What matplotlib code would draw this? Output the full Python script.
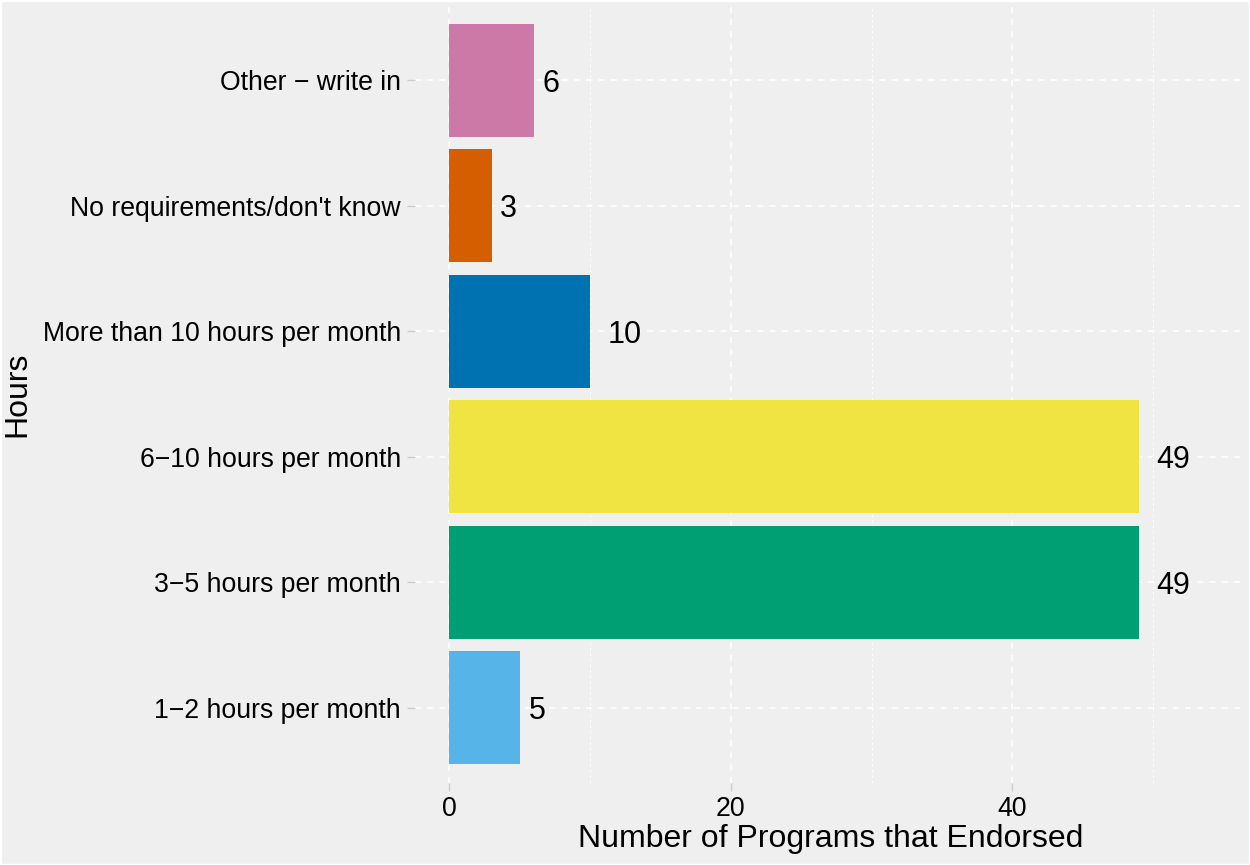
import matplotlib
matplotlib.use("Agg")
import matplotlib.pyplot as plt
from matplotlib.patches import Rectangle
from matplotlib.ticker import MultipleLocator

plt.rcParams['font.family'] = ['Liberation Sans', 'DejaVu Sans']

categories = ["1\u22122 hours per month", "3\u22125 hours per month", "6\u221210 hours per month",
              "More than 10 hours per month", "No requirements/don't know", "Other \u2212 write in"]
values = [5, 49, 49, 10, 3, 6]
colors = ["#56B4E9", "#009E73", "#F0E442", "#0072B2", "#D55E00", "#CC79A7"]
x_ticks = [0, 20, 40]
x_label = "Number of Programs that Endorsed"
y_label = "Hours"

bg = "#EFEFEF"
fig = plt.figure(figsize=(12.5, 8.65), dpi=100, facecolor=bg)
W, H = 1250, 865
left, right, top, bottom = 415, 1246, 5, 783
ax = fig.add_axes([left / W, 1 - bottom / H, (right - left) / W, (bottom - top) / H])
ax.set_facecolor(bg)

ypos = list(range(len(categories)))
ax.barh(ypos, values, height=0.9, color=colors, zorder=3)

ax.set_xlim(-2.45, 56.6)
ax.set_ylim(-0.6, len(categories) - 0.4)

ax.set_xticks(x_ticks)
ax.xaxis.set_minor_locator(MultipleLocator(10))
ax.set_yticks(ypos)
ax.set_yticklabels(categories)

ax.grid(True, which='major', axis='both', color='white', linestyle=(0, (4, 4)), linewidth=1.1, zorder=1)
ax.grid(True, which='minor', axis='x', color='white', linestyle=(0, (2, 3)), linewidth=0.8, zorder=1)
ax.tick_params(axis='x', which='minor', length=0)

for s in ax.spines.values():
    s.set_visible(False)

ax.tick_params(axis='both', which='major', length=6, width=1, color='#CCCCCC', labelsize=19.2, labelcolor='black')
ax.tick_params(axis='y', pad=4.0)
ax.tick_params(axis='x', pad=3)

fs_lab = 22
for y, v in zip(ypos, values):
    lab = str(v)
    off = 0.5 * len(lab) * 0.556 * fs_lab
    ax.annotate(lab, xy=(v, y), xytext=(off, -2.5), textcoords='offset points',
                ha='left', va='center', fontsize=fs_lab, color='black', zorder=4)

ax.set_xlabel(x_label, fontsize=23)
ax.xaxis.set_label_coords(0.5, -0.053)
ax.xaxis.label.set_va('top')
ax.set_ylabel(y_label, fontsize=23)
ax.yaxis.set_label_coords(-0.461, 0.5)

fig.patches.append(Rectangle((0, 0), 1, 1, transform=fig.transFigure, fill=False,
                             edgecolor='white', linewidth=2.5, zorder=10))

fig.savefig("out.png", dpi=100, facecolor=bg)
